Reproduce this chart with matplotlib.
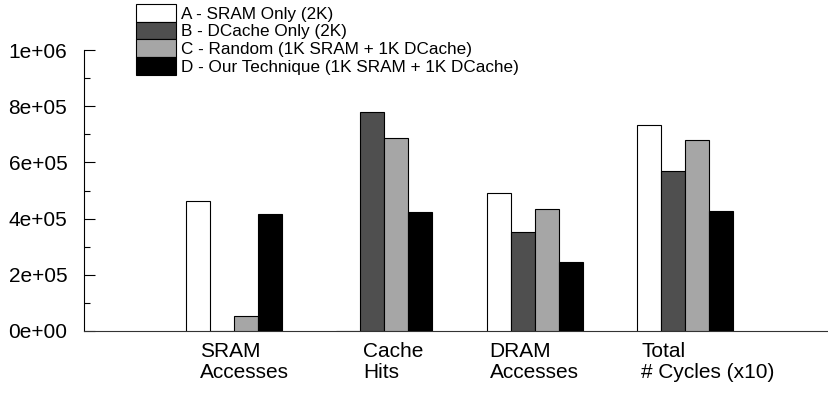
import matplotlib
matplotlib.use("Agg")
import matplotlib.pyplot as plt
from matplotlib.ticker import MultipleLocator, FuncFormatter
import numpy as np

plt.rcParams["font.family"] = ["Liberation Sans", "DejaVu Sans"]

# memory access statistics per configuration
categories = ["SRAM\nAccesses", "Cache\nHits", "DRAM\nAccesses", "Total\n# Cycles (x10)"]
series_labels = [
    "A - SRAM Only (2K)",
    "B - DCache Only (2K)",
    "C - Random (1K SRAM + 1K DCache)",
    "D - Our Technique (1K SRAM + 1K DCache)",
]
sram_only    = [463000, 0,      490000, 734000]
dcache_only  = [0,      780000, 351000, 569000]
random_split = [53000,  688000, 433000, 679000]
our_tech     = [415000, 422000, 246000, 426000]

FILLS = ["#ffffff", "#4f4f4f", "#a6a6a6", "#000000"]
BAR_W = 0.16
# left edge of each category label, relative to group centre
LABEL_SHIFT = [-0.23, -0.14, -0.30, -0.29]

fig = plt.figure(figsize=(8.29, 3.95), dpi=100)
ax = fig.add_axes([84 / 829, 64 / 395, 751 / 829, 281 / 395])

x = np.arange(len(categories))
all_series = [sram_only, dcache_only, random_split, our_tech]
handles = []
for i, (vals, col, lab) in enumerate(zip(all_series, FILLS, series_labels)):
    b = ax.bar(x + (i - 1.5) * BAR_W, vals, BAR_W, color=col,
               edgecolor="black", linewidth=0.8, label=lab, zorder=3)
    handles.append(b)

ax.set_xlim(-1, 4)
ax.set_ylim(0, 1e6)
ax.yaxis.set_major_locator(MultipleLocator(2e5))
ax.yaxis.set_minor_locator(MultipleLocator(1e5))
ax.yaxis.set_major_formatter(FuncFormatter(lambda v, p: "%.0e" % v))
ax.tick_params(axis="y", which="major", direction="in", length=8,
               width=0.8, labelsize=15, pad=12)
ax.tick_params(axis="y", which="minor", direction="in", length=4, width=0.8)
ax.set_xticks([])

for s in ["top", "right"]:
    ax.spines[s].set_visible(False)
ax.spines["left"].set_linewidth(0.8)
ax.spines["bottom"].set_linewidth(0.8)
ax.spines["bottom"].set_color("#333333")

for xi, cat, dx in zip(x, categories, LABEL_SHIFT):
    ax.text(xi + dx, -0.04, cat, transform=ax.get_xaxis_transform(),
            ha="left", va="top", fontsize=15, linespacing=1.12)

fig.legend(handles=handles, loc="upper left",
           bbox_to_anchor=(136 / 829, 1 - 4 / 395),
           frameon=False, fontsize=12.3, labelspacing=0,
           handleheight=1.22, handlelength=2.35, handletextpad=0.3,
           borderpad=0, borderaxespad=0)

fig.savefig("out.png", dpi=100)
